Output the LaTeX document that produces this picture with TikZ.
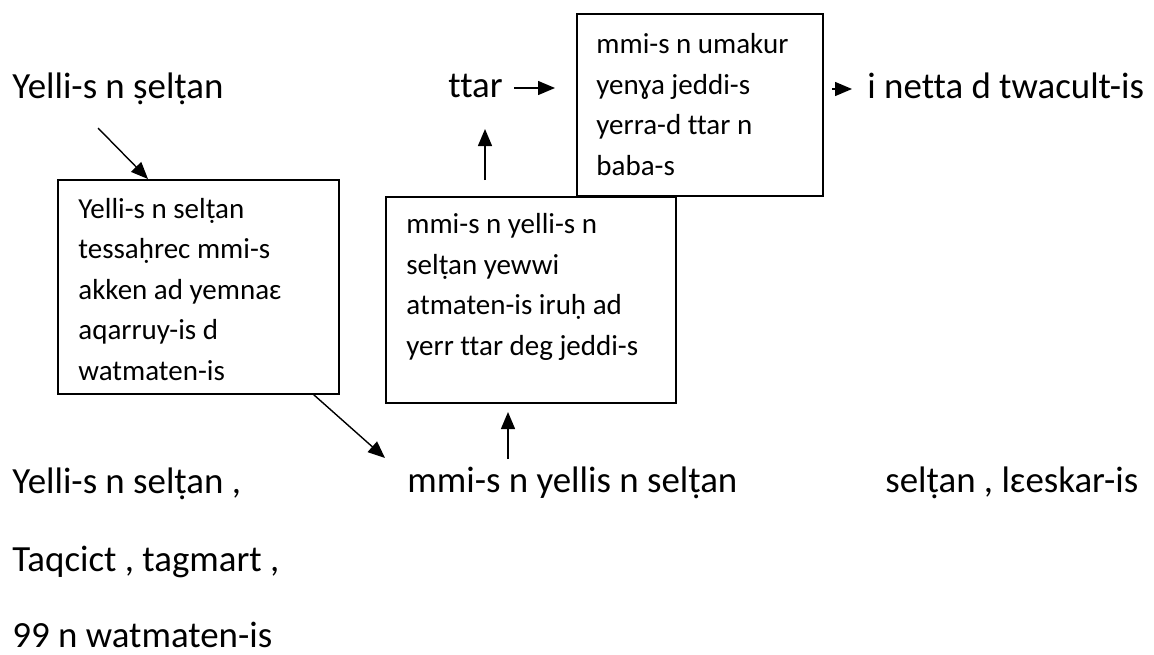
\documentclass[tikz,border=0pt]{standalone}
\usepackage{fontspec}
\setmainfont{Carlito}[Ligatures=NoCommon]
\usetikzlibrary{arrows.meta}

\begin{document}
\begin{tikzpicture}[x=0.5pt, y=-0.5pt,
  boxtext/.style={anchor=base west, inner sep=0pt, align=left,
    font=\fontsize{14.5pt}{20.25pt}\selectfont},
  bigtext/.style={anchor=base west, inner sep=0pt,
    font=\fontsize{18.45pt}{22pt}\selectfont},
  frame/.style={draw, line width=0.8pt, anchor=north west, inner sep=0pt},
  arr/.style={line width=0.7pt, -{Triangle[length=8.5pt,width=7pt]}}]
\useasboundingbox (0,0) rectangle (1154,654);
% Frames
\node[frame, minimum width=140.5pt, minimum height=107pt] (b1) at (57,179) {};
\node[frame, minimum width=145pt, minimum height=103pt] (b2) at (385,196) {};
\node[frame, fill=white, minimum width=123pt, minimum height=91pt] (b3) at (576,13) {};
% Text in the frames (base is the last line)
\node[boxtext] (t1) at (78,380) {Yelli-s n selṭan\\tessaḥrec mmi-s\\akken ad yemnaɛ\\aqarruy-is d\\watmaten-is};
\node[boxtext] (t2) at (406,355) {mmi-s n yelli-s n\\selṭan yewwi\\atmaten-is iruḥ ad\\yerr ttar deg jeddi-s};
\node[boxtext] (t3) at (596,175) {mmi-s n umakur\\yenɣa jeddi-s\\yerra-d ttar n\\baba-s};
% Top row
\node[bigtext] (title) at (12,98) {Yelli-s n ṣelṭan};
\node[bigtext] (ttar) at (448,97) {ttar};
\node[bigtext] (netta) at (867,98) {i netta d twacult-is};
% Bottom rows
\node[bigtext] (rowa) at (12,493) {Yelli-s n selṭan ,};
\node[bigtext] (rowb) at (407,492) {mmi-s n yellis n selṭan};
\node[bigtext] (rowc) at (885,492) {selṭan , lɛeskar-is};
\node[bigtext] (taqcict) at (12,571) {Taqcict , tagmart ,};
\node[bigtext] (watmaten) at (12,647) {99 n watmaten-is};
% Arrows
\coordinate (p1) at (98,128);
\coordinate (p2) at (385,458);
\coordinate (p3) at (508,459);
\coordinate (p4) at (508,412);
\coordinate (p5) at (485,180);
\coordinate (p6) at (485,129);
\coordinate (p7) at (514,88);
\coordinate (p8) at (555,88);
\coordinate (p9) at (832,89);
\coordinate (p10) at (852,89);
\draw[arr] (p1) -- ([xshift=45.5pt]b1.north west);
\draw[arr] ([xshift=-13pt]b1.south east) -- (p2);
\draw[arr] (p3) -- (p4);
\draw[arr] (p5) -- (p6);
\draw[arr] (p7) -- (p8);
\draw[arr] (p9) -- (p10);
\end{tikzpicture}
\end{document}
